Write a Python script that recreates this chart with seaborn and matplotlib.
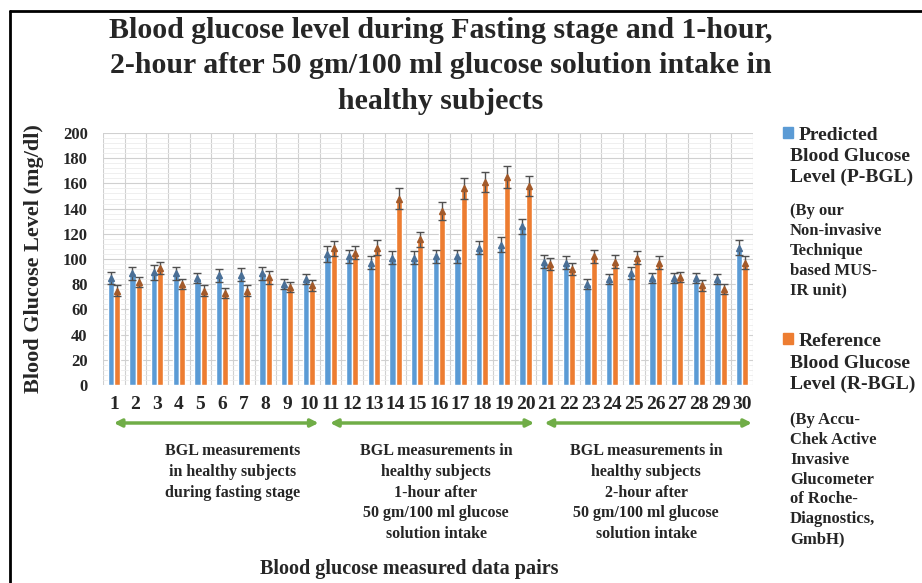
import numpy as np
import pandas as pd
import matplotlib
matplotlib.use("Agg")
import matplotlib.pyplot as plt
from matplotlib.lines import Line2D
from matplotlib.ticker import MultipleLocator
import seaborn as sns

# data
pairs = [str(i) for i in range(1, 31)]
predicted = [85, 88.5, 89.5, 88.5, 85, 87, 87.5, 88.5, 80, 84,
             104, 102, 97, 101, 101, 102, 102, 109, 111.5, 126,
             98, 97, 80, 84, 89, 85, 85, 85, 84, 109]
reference = [75, 82, 93, 80.5, 75, 73, 75, 85.5, 78, 79,
             108.5, 105, 109, 148, 115.5, 138, 156, 161, 165, 158,
             96, 92, 102, 98, 101, 97, 86, 79, 76, 97]
predicted_err = [5, 5, 6, 5, 4, 5, 5, 5, 4, 4, 6, 5, 5, 5, 5, 5, 5, 5, 6, 6,
                 5, 5, 4, 4, 5, 4, 4, 4, 4, 6]
reference_err = [4, 4, 5, 4, 4, 4, 4, 5, 4, 4, 6, 5, 6, 8, 6, 7, 8, 8, 9, 8,
                 5, 5, 5, 5, 5, 5, 4, 4, 4, 5]
series = ["Predicted", "Reference"]
group_text = ["BGL measurements\nin healthy subjects\nduring fasting stage",
              "BGL measurements in\nhealthy subjects\n1-hour after\n50 gm/100 ml glucose\nsolution intake",
              "BGL measurements in\nhealthy subjects\n2-hour after\n50 gm/100 ml glucose\nsolution intake"]

blue = "#5B9BD5"
orange = "#ED7D31"
green = "#70AD47"

df = pd.DataFrame({
    "pair": pairs * 2,
    "value": predicted + reference,
    "series": [series[0]] * 30 + [series[1]] * 30,
})

sns.set_style("white")
plt.rcParams["font.family"] = ["Liberation Serif", "DejaVu Serif"]
plt.rcParams["font.weight"] = "bold"

W, H = 922, 583
fig = plt.figure(figsize=(W / 100, H / 100), dpi=100)
ax = fig.add_axes([103 / W, 1 - 385 / H, 650 / W, 252 / H])

sns.barplot(data=df, x="pair", y="value", hue="series", order=pairs,
            palette=[blue, orange], width=0.56, ax=ax, legend=False,
            saturation=1, errorbar=None, zorder=2)

# error bars with triangle markers on bar tops
bars = ax.patches
for i, p in enumerate(bars[:60]):
    k = i // 30
    j = i % 30
    vals = predicted if k == 0 else reference
    errs = predicted_err if k == 0 else reference_err
    cx = p.get_x() + p.get_width() / 2
    face = "#4a6f96" if k == 0 else "#a35a2a"
    ax.errorbar(cx, vals[j], yerr=errs[j], fmt="^", ms=4.5, mfc=face, mec=face,
                ecolor="#505050", elinewidth=1.0, capsize=3, capthick=1.0, zorder=3)

ax.set_ylim(0, 200)
ax.set_xlim(-0.5, 29.5)
ax.yaxis.set_major_locator(MultipleLocator(20))
ax.yaxis.set_minor_locator(MultipleLocator(4))
ax.set_xticks(np.arange(-0.5, 30, 1), minor=True)
ax.grid(which="major", axis="y", color="#d0d0d0", lw=0.8, zorder=0)
ax.grid(which="minor", axis="y", color="#ececec", lw=0.6, zorder=0)
ax.grid(which="minor", axis="x", color="#d0d0d0", lw=0.8, zorder=0)
ax.set_axisbelow(True)
for s in ax.spines.values():
    s.set_visible(False)
ax.tick_params(which="both", length=0)
ax.tick_params(axis="x", pad=8, labelsize=14)
ax.tick_params(axis="y", pad=11, labelsize=12)
ax.set_xticks(range(30))
ax.set_xticklabels(pairs, fontweight="bold")
for t in ax.get_yticklabels():
    t.set_fontweight("bold")

ax.set_ylabel("Blood Glucose Level (mg/dl)", fontsize=16, fontweight="bold")
ax.yaxis.set_label_coords(-(103 - 44) / 650, 0.5)
ax.set_xlabel("Blood glucose measured data pairs", fontsize=14.5, fontweight="bold", va="top")
ax.xaxis.set_label_coords((409 - 103) / 650, -(559 - 385) / 252)

# group arrows and captions
spans = [(0, 9.45), (9.98, 19.4), (19.88, 29.45)]
for x0, x1 in spans:
    ax.annotate("", xy=(x1, -(423 - 385) / 252), xytext=(x0, -(423 - 385) / 252),
                xycoords=ax.get_xaxis_transform(), textcoords=ax.get_xaxis_transform(),
                arrowprops=dict(arrowstyle="<|-|>", color=green, lw=2.5,
                                mutation_scale=11, shrinkA=0, shrinkB=0),
                annotation_clip=False)
for cx, txt in zip([233, 436, 646], group_text):
    fig.text(cx / W, 1 - 443 / H, txt, ha="center", va="top", fontsize=11.5,
             fontweight="bold", linespacing=1.4)

fig.text(441 / W, 1 - 17 / H,
         "Blood glucose level during Fasting stage and 1-hour,\n"
         "2-hour after 50 gm/100 ml glucose solution intake in\n"
         "healthy subjects",
         ha="center", va="top", fontsize=21.5, fontweight="bold", linespacing=1.4)

# legend entries
leg1 = ax.legend([plt.Rectangle((0, 0), 1, 1, color=blue)], ["Predicted"],
                 loc="center left", bbox_to_anchor=(773 / W, 1 - 135 / H),
                 bbox_transform=fig.transFigure, frameon=False, handlelength=0.55,
                 handleheight=0.55, handletextpad=0.25, borderpad=0,
                 prop=dict(size=14, weight="bold"))
ax.add_artist(leg1)
leg2 = ax.legend([plt.Rectangle((0, 0), 1, 1, color=orange)], ["Reference"],
                 loc="center left", bbox_to_anchor=(773 / W, 1 - 341 / H),
                 bbox_transform=fig.transFigure, frameon=False, handlelength=0.55,
                 handleheight=0.55, handletextpad=0.25, borderpad=0,
                 prop=dict(size=14, weight="bold"))

fig.text(790 / W, 1 - 148 / H, "Blood Glucose\nLevel (P-BGL)", ha="left", va="top",
         fontsize=14, fontweight="bold", linespacing=1.3)
fig.text(790 / W, 1 - 203 / H, "(By our\nNon-invasive\nTechnique\nbased MUS-\nIR unit)",
         ha="left", va="top", fontsize=12, fontweight="bold", linespacing=1.32)
fig.text(790 / W, 1 - 355 / H, "Blood Glucose\nLevel (R-BGL)", ha="left", va="top",
         fontsize=14, fontweight="bold", linespacing=1.3)
fig.text(790 / W, 1 - 412 / H,
         "(By Accu-\nChek Active\nInvasive\nGlucometer\nof Roche-\nDiagnostics,\nGmbH)",
         ha="left", va="top", fontsize=12, fontweight="bold", linespacing=1.32)

# frame of the original figure (top and left edges)
fig.add_artist(Line2D([10 / W, 10 / W], [0, 1 - 11 / H], color="black", lw=2))
fig.add_artist(Line2D([10 / W, 1], [1 - 11 / H, 1 - 11 / H], color="black", lw=2))

fig.savefig("out.png", dpi=100)
